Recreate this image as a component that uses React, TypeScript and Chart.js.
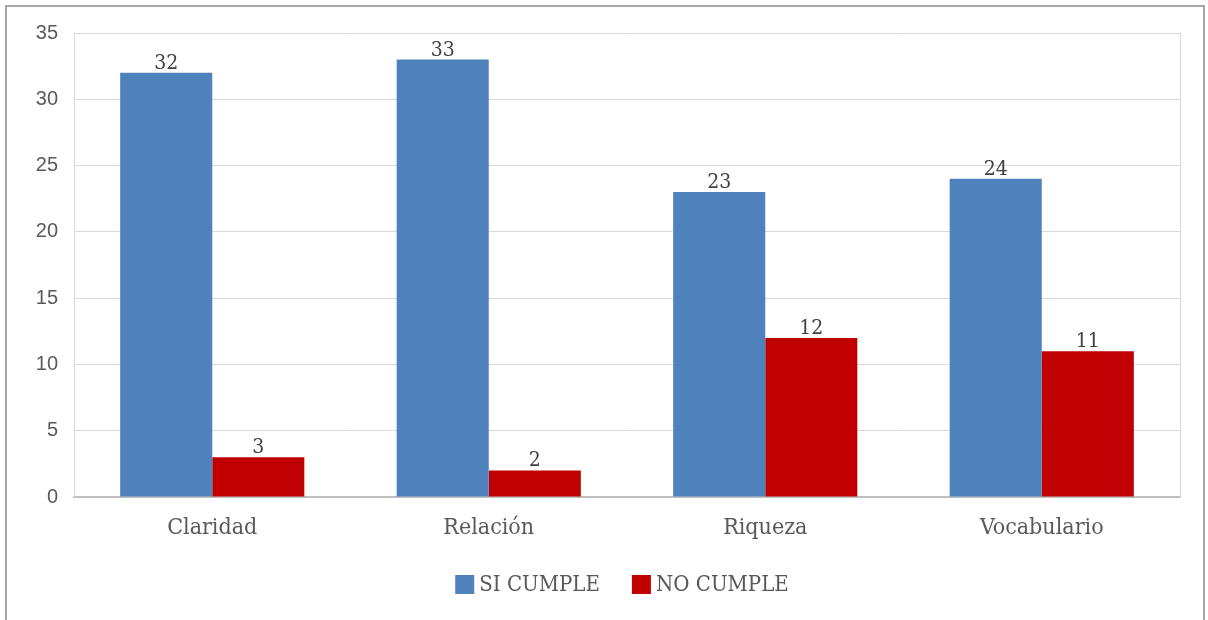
import { useEffect, useRef } from "react";
import { Chart, registerables } from "chart.js";

Chart.register(...registerables);

const categories = ["Claridad", "Relación", "Riqueza", "Vocabulario"];
const siCumple = [32, 33, 23, 24];
const noCumple = [3, 2, 12, 11];
const seriesNames = ["SI CUMPLE", "NO CUMPLE"];
const seriesColors = ["#4F81BD", "#C00000"];
const yMax = 35;
const yStep = 5;

const SERIF = "'DejaVu Serif Condensed', 'DejaVu Serif', serif";
const SANS = "'Liberation Sans', Arial, sans-serif";
const TEXT = "#595959";

const framePlugin = {
  id: "frame",
  beforeDraw(chart: any) {
    const { ctx, width, height } = chart;
    ctx.save();
    ctx.fillStyle = "#ffffff";
    ctx.fillRect(0, 0, width, height);
    ctx.strokeStyle = "#a6a6a6";
    ctx.lineWidth = 2;
    ctx.strokeRect(6, 6, width - 10, height + 20);
    ctx.restore();
  },
  afterDraw(chart: any) {
    const { ctx, chartArea } = chart;
    ctx.save();
    ctx.strokeStyle = "#d9d9d9";
    ctx.lineWidth = 1;
    ctx.beginPath();
    ctx.moveTo(Math.round(chartArea.right) + 0.5, chartArea.top);
    ctx.lineTo(Math.round(chartArea.right) + 0.5, chartArea.bottom);
    ctx.stroke();
    ctx.restore();
  },
};

const valueLabels = {
  id: "valueLabels",
  afterDatasetsDraw(chart: any) {
    const { ctx } = chart;
    ctx.save();
    ctx.font = `21px ${SERIF}`;
    ctx.fillStyle = "#404040";
    ctx.textAlign = "center";
    ctx.textBaseline = "alphabetic";
    chart.data.datasets.forEach((ds: any, i: number) => {
      const meta = chart.getDatasetMeta(i);
      meta.data.forEach((bar: any, j: number) => {
        ctx.fillText(String(ds.data[j]), bar.x, bar.y - 4);
      });
    });
    ctx.restore();
  },
};

const bottomLegend = {
  id: "bottomLegend",
  afterDraw(chart: any) {
    const { ctx, chartArea } = chart;
    const box = 18;
    const gap = 6;
    const spacing = 32;
    ctx.save();
    ctx.font = `22px ${SERIF}`;
    ctx.textBaseline = "middle";
    ctx.textAlign = "left";
    const items = chart.data.datasets.map((ds: any) => ({
      label: ds.label,
      color: ds.backgroundColor,
      w: box + gap + ctx.measureText(ds.label).width,
    }));
    const total = items.reduce((s: number, it: any) => s + it.w, 0) + spacing * (items.length - 1);
    let x = (chartArea.left + chartArea.right) / 2 - 5 - total / 2;
    const y = 584;
    items.forEach((it: any) => {
      ctx.fillStyle = it.color;
      ctx.fillRect(x, y - box / 2, box + 1, box + 1);
      ctx.fillStyle = TEXT;
      ctx.fillText(it.label, x + box + gap, y + 1);
      x += it.w + spacing;
    });
    ctx.restore();
  },
};

export default function App() {
  const canvasRef = useRef<HTMLCanvasElement | null>(null);

  useEffect(() => {
    if (!canvasRef.current) return;
    const chart = new Chart(canvasRef.current, {
      type: "bar",
      data: {
        labels: categories,
        datasets: [
          { label: seriesNames[0], data: siCumple, backgroundColor: seriesColors[0] },
          { label: seriesNames[1], data: noCumple, backgroundColor: seriesColors[1] },
        ],
      },
      options: {
        responsive: false,
        animation: false,
        layout: { padding: { top: 33, left: 0, right: 28, bottom: 63 } },
        datasets: {
          bar: { categoryPercentage: 0.666, barPercentage: 1 },
        },
        plugins: {
          legend: { display: false },
          tooltip: { enabled: false },
        },
        scales: {
          x: {
            grid: { display: false, drawTicks: false },
            border: { display: true, color: "#bfbfbf", width: 2 },
            ticks: { color: TEXT, font: { family: SERIF, size: 23 }, padding: 17 },
            afterFit(scale: any) {
              scale.height = 60;
            },
          },
          y: {
            min: 0,
            max: yMax,
            grid: { color: "#d9d9d9", lineWidth: 1, drawTicks: false },
            border: { display: true, color: "#d9d9d9", width: 1 },
            ticks: {
              stepSize: yStep,
              color: TEXT,
              font: { family: SANS, size: 20 },
              padding: 16,
            },
            afterFit(scale: any) {
              scale.width = 74;
            },
          },
        },
      },
      plugins: [framePlugin, valueLabels, bottomLegend],
    });
    return () => chart.destroy();
  }, []);

  return (
    <div style={{ position: "absolute", left: 0, top: 0, width: 1208, height: 620 }}>
      <canvas ref={canvasRef} width={1208} height={620} />
    </div>
  );
}
